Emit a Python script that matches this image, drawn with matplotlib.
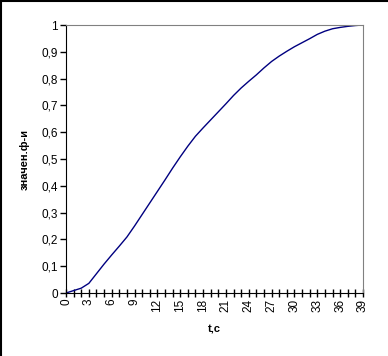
import matplotlib

matplotlib.use("Agg", force=True)
import matplotlib.pyplot as plt
from matplotlib.lines import Line2D
from matplotlib.ticker import FuncFormatter, MultipleLocator

plt.rcParams["font.family"] = ["Liberation Sans", "DejaVu Sans"]

t = list(range(0, 40))
values = [0.0, 0.009, 0.018, 0.036, 0.072, 0.108, 0.142, 0.175, 0.209, 0.25,
          0.293, 0.336, 0.379, 0.422, 0.466, 0.508, 0.548, 0.585, 0.616, 0.646,
          0.676, 0.706, 0.737, 0.765, 0.79, 0.814, 0.84, 0.864, 0.884, 0.902,
          0.919, 0.934, 0.949, 0.965, 0.977, 0.986, 0.991, 0.995, 0.998, 1.0]
x_label = "t,c"
y_label = "значен.ф-и"

fig = plt.figure(figsize=(3.88, 3.56), dpi=100)
ax = fig.add_axes([66 / 388, 1 - 293 / 356, (363 - 66) / 388, (293 - 25) / 356])

ax.plot(t, values, color="#000080", linewidth=1.0)
ax.set_xlim(0, 39)
ax.set_ylim(0, 1)

ax.xaxis.set_major_locator(MultipleLocator(1))
ax.xaxis.set_major_formatter(FuncFormatter(lambda v, p: f"{int(round(v))}" if int(round(v)) % 3 == 0 else ""))
ax.yaxis.set_major_locator(MultipleLocator(0.1))
ax.yaxis.set_major_formatter(FuncFormatter(lambda v, p: f"{int(round(v))}" if round(v, 1) in (0.0, 1.0) else f"{v:.1f}".replace(".", ",")))

ax.tick_params(axis="x", direction="inout", length=6, width=1, labelsize=8.5, rotation=90, pad=1)
ax.tick_params(axis="y", direction="out", length=4, width=1, labelsize=8.5, pad=2)

for side in ("left", "bottom"):
    ax.spines[side].set_color("black")
for side in ("top", "right"):
    ax.spines[side].set_color("#808080")

ax.set_xlabel(x_label, fontsize=8, fontweight="bold", labelpad=9)
ax.set_ylabel(y_label, fontsize=8, fontweight="bold", labelpad=8)

# outer frame (only top and left edges are visible in the crop)
fig.add_artist(Line2D([0.5 / 388, 0.5 / 388], [0, 1], color="black", linewidth=1.5))
fig.add_artist(Line2D([0, 1], [1 - 0.5 / 356, 1 - 0.5 / 356], color="black", linewidth=1.5))

fig.savefig("out.png", dpi=100)
plt.close(fig)
